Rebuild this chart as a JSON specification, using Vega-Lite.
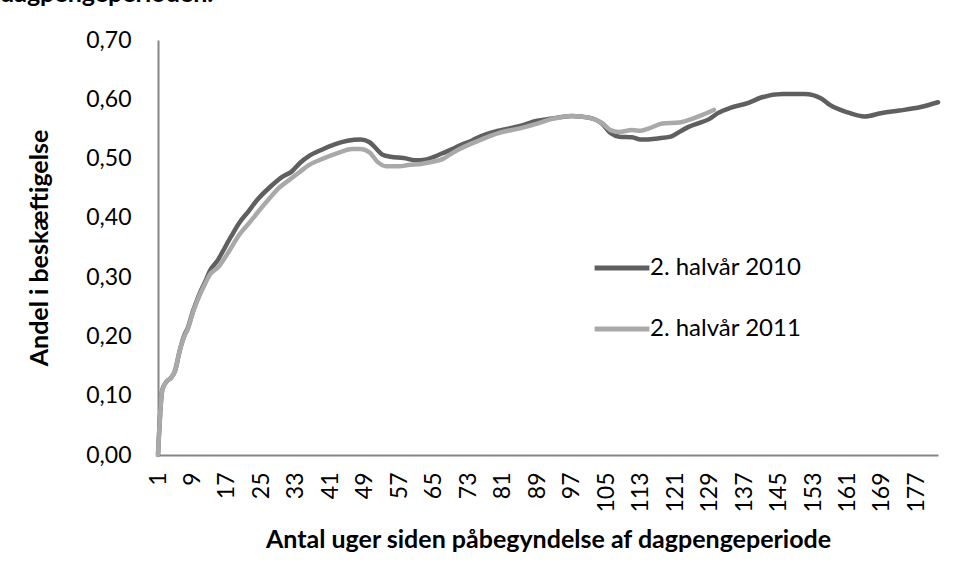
{
  "$schema": "https://vega.github.io/schema/vega-lite/v6.json",
  "width": 780,
  "height": 415,
  "autosize": {"type": "none"},
  "padding": {"left": 158, "top": 40, "right": 19, "bottom": 125},
  "background": "white",
  "config": {
    "view": {"stroke": null},
    "font": "Lato"
  },
  "title": {
    "text": "dagpengeperioden.",
    "anchor": "start",
    "frame": "group",
    "dx": -158,
    "dy": -18,
    "fontSize": 25,
    "fontWeight": "bold",
    "font": "Lato",
    "color": "#000000"
  },
  "data": {
    "values": [
      {"week": 1, "v": 0.0, "s": "2. halvår 2010"},
      {"week": 2, "v": 0.11, "s": "2. halvår 2010"},
      {"week": 3, "v": 0.124, "s": "2. halvår 2010"},
      {"week": 4, "v": 0.13, "s": "2. halvår 2010"},
      {"week": 5, "v": 0.143, "s": "2. halvår 2010"},
      {"week": 6, "v": 0.175, "s": "2. halvår 2010"},
      {"week": 7, "v": 0.2, "s": "2. halvår 2010"},
      {"week": 8, "v": 0.216, "s": "2. halvår 2010"},
      {"week": 9, "v": 0.24, "s": "2. halvår 2010"},
      {"week": 10, "v": 0.26, "s": "2. halvår 2010"},
      {"week": 11, "v": 0.278, "s": "2. halvår 2010"},
      {"week": 12, "v": 0.293, "s": "2. halvår 2010"},
      {"week": 13, "v": 0.31, "s": "2. halvår 2010"},
      {"week": 15, "v": 0.33, "s": "2. halvår 2010"},
      {"week": 16, "v": 0.343, "s": "2. halvår 2010"},
      {"week": 18, "v": 0.369, "s": "2. halvår 2010"},
      {"week": 20, "v": 0.393, "s": "2. halvår 2010"},
      {"week": 22, "v": 0.411, "s": "2. halvår 2010"},
      {"week": 24, "v": 0.43, "s": "2. halvår 2010"},
      {"week": 27, "v": 0.452, "s": "2. halvår 2010"},
      {"week": 30, "v": 0.47, "s": "2. halvår 2010"},
      {"week": 32, "v": 0.478, "s": "2. halvår 2010"},
      {"week": 34, "v": 0.493, "s": "2. halvår 2010"},
      {"week": 36, "v": 0.504, "s": "2. halvår 2010"},
      {"week": 39, "v": 0.515, "s": "2. halvår 2010"},
      {"week": 42, "v": 0.524, "s": "2. halvår 2010"},
      {"week": 45, "v": 0.53, "s": "2. halvår 2010"},
      {"week": 48, "v": 0.532, "s": "2. halvår 2010"},
      {"week": 50, "v": 0.528, "s": "2. halvår 2010"},
      {"week": 52, "v": 0.514, "s": "2. halvår 2010"},
      {"week": 53, "v": 0.507, "s": "2. halvår 2010"},
      {"week": 55, "v": 0.503, "s": "2. halvår 2010"},
      {"week": 58, "v": 0.501, "s": "2. halvår 2010"},
      {"week": 61, "v": 0.497, "s": "2. halvår 2010"},
      {"week": 63, "v": 0.498, "s": "2. halvår 2010"},
      {"week": 65, "v": 0.503, "s": "2. halvår 2010"},
      {"week": 67, "v": 0.509, "s": "2. halvår 2010"},
      {"week": 69, "v": 0.515, "s": "2. halvår 2010"},
      {"week": 71, "v": 0.522, "s": "2. halvår 2010"},
      {"week": 74, "v": 0.531, "s": "2. halvår 2010"},
      {"week": 76, "v": 0.538, "s": "2. halvår 2010"},
      {"week": 80, "v": 0.547, "s": "2. halvår 2010"},
      {"week": 85, "v": 0.555, "s": "2. halvår 2010"},
      {"week": 89, "v": 0.564, "s": "2. halvår 2010"},
      {"week": 92, "v": 0.567, "s": "2. halvår 2010"},
      {"week": 97, "v": 0.572, "s": "2. halvår 2010"},
      {"week": 101, "v": 0.569, "s": "2. halvår 2010"},
      {"week": 104, "v": 0.559, "s": "2. halvår 2010"},
      {"week": 106, "v": 0.543, "s": "2. halvår 2010"},
      {"week": 108, "v": 0.537, "s": "2. halvår 2010"},
      {"week": 111, "v": 0.536, "s": "2. halvår 2010"},
      {"week": 113, "v": 0.532, "s": "2. halvår 2010"},
      {"week": 117, "v": 0.534, "s": "2. halvår 2010"},
      {"week": 120, "v": 0.537, "s": "2. halvår 2010"},
      {"week": 122, "v": 0.545, "s": "2. halvår 2010"},
      {"week": 124, "v": 0.553, "s": "2. halvår 2010"},
      {"week": 127, "v": 0.561, "s": "2. halvår 2010"},
      {"week": 129, "v": 0.567, "s": "2. halvår 2010"},
      {"week": 131, "v": 0.577, "s": "2. halvår 2010"},
      {"week": 134, "v": 0.586, "s": "2. halvår 2010"},
      {"week": 138, "v": 0.594, "s": "2. halvår 2010"},
      {"week": 141, "v": 0.603, "s": "2. halvår 2010"},
      {"week": 146, "v": 0.609, "s": "2. halvår 2010"},
      {"week": 151, "v": 0.609, "s": "2. halvår 2010"},
      {"week": 155, "v": 0.601, "s": "2. halvår 2010"},
      {"week": 157, "v": 0.59, "s": "2. halvår 2010"},
      {"week": 161, "v": 0.578, "s": "2. halvår 2010"},
      {"week": 165, "v": 0.571, "s": "2. halvår 2010"},
      {"week": 169, "v": 0.577, "s": "2. halvår 2010"},
      {"week": 173, "v": 0.581, "s": "2. halvår 2010"},
      {"week": 178, "v": 0.587, "s": "2. halvår 2010"},
      {"week": 182, "v": 0.595, "s": "2. halvår 2010"},
      {"week": 1, "v": 0.0, "s": "2. halvår 2011"},
      {"week": 2, "v": 0.11, "s": "2. halvår 2011"},
      {"week": 3, "v": 0.124, "s": "2. halvår 2011"},
      {"week": 4, "v": 0.13, "s": "2. halvår 2011"},
      {"week": 5, "v": 0.143, "s": "2. halvår 2011"},
      {"week": 6, "v": 0.175, "s": "2. halvår 2011"},
      {"week": 7, "v": 0.198, "s": "2. halvår 2011"},
      {"week": 8, "v": 0.214, "s": "2. halvår 2011"},
      {"week": 9, "v": 0.238, "s": "2. halvår 2011"},
      {"week": 10, "v": 0.258, "s": "2. halvår 2011"},
      {"week": 11, "v": 0.275, "s": "2. halvår 2011"},
      {"week": 12, "v": 0.29, "s": "2. halvår 2011"},
      {"week": 13, "v": 0.304, "s": "2. halvår 2011"},
      {"week": 15, "v": 0.317, "s": "2. halvår 2011"},
      {"week": 17, "v": 0.338, "s": "2. halvår 2011"},
      {"week": 18, "v": 0.35, "s": "2. halvår 2011"},
      {"week": 20, "v": 0.373, "s": "2. halvår 2011"},
      {"week": 22, "v": 0.39, "s": "2. halvår 2011"},
      {"week": 25, "v": 0.417, "s": "2. halvår 2011"},
      {"week": 27, "v": 0.434, "s": "2. halvår 2011"},
      {"week": 29, "v": 0.45, "s": "2. halvår 2011"},
      {"week": 32, "v": 0.467, "s": "2. halvår 2011"},
      {"week": 34, "v": 0.478, "s": "2. halvår 2011"},
      {"week": 36, "v": 0.489, "s": "2. halvår 2011"},
      {"week": 39, "v": 0.499, "s": "2. halvår 2011"},
      {"week": 43, "v": 0.51, "s": "2. halvår 2011"},
      {"week": 46, "v": 0.516, "s": "2. halvår 2011"},
      {"week": 48, "v": 0.516, "s": "2. halvår 2011"},
      {"week": 50, "v": 0.511, "s": "2. halvår 2011"},
      {"week": 52, "v": 0.494, "s": "2. halvår 2011"},
      {"week": 54, "v": 0.487, "s": "2. halvår 2011"},
      {"week": 57, "v": 0.487, "s": "2. halvår 2011"},
      {"week": 59, "v": 0.489, "s": "2. halvår 2011"},
      {"week": 62, "v": 0.491, "s": "2. halvår 2011"},
      {"week": 65, "v": 0.495, "s": "2. halvår 2011"},
      {"week": 67, "v": 0.499, "s": "2. halvår 2011"},
      {"week": 69, "v": 0.508, "s": "2. halvår 2011"},
      {"week": 71, "v": 0.516, "s": "2. halvår 2011"},
      {"week": 74, "v": 0.526, "s": "2. halvår 2011"},
      {"week": 76, "v": 0.532, "s": "2. halvår 2011"},
      {"week": 80, "v": 0.543, "s": "2. halvår 2011"},
      {"week": 85, "v": 0.551, "s": "2. halvår 2011"},
      {"week": 89, "v": 0.559, "s": "2. halvår 2011"},
      {"week": 92, "v": 0.566, "s": "2. halvår 2011"},
      {"week": 97, "v": 0.572, "s": "2. halvår 2011"},
      {"week": 101, "v": 0.569, "s": "2. halvår 2011"},
      {"week": 104, "v": 0.56, "s": "2. halvår 2011"},
      {"week": 106, "v": 0.548, "s": "2. halvår 2011"},
      {"week": 108, "v": 0.545, "s": "2. halvår 2011"},
      {"week": 111, "v": 0.548, "s": "2. halvår 2011"},
      {"week": 113, "v": 0.547, "s": "2. halvår 2011"},
      {"week": 115, "v": 0.551, "s": "2. halvår 2011"},
      {"week": 118, "v": 0.559, "s": "2. halvår 2011"},
      {"week": 122, "v": 0.561, "s": "2. halvår 2011"},
      {"week": 126, "v": 0.57, "s": "2. halvår 2011"},
      {"week": 130, "v": 0.582, "s": "2. halvår 2011"}
    ]
  },
  "mark": {"type": "line", "strokeWidth": 4.5, "strokeCap": "round", "strokeJoin": "round", "interpolate": "monotone"},
  "encoding": {
    "x": {
      "field": "week",
      "type": "quantitative",
      "scale": {"domain": [1, 182], "nice": false, "zero": false},
      "axis": {
        "title": "Antal uger siden påbegyndelse af dagpengeperiode",
        "values": [1, 9, 17, 25, 33, 41, 49, 57, 65, 73, 81, 89, 97, 105, 113, 121, 129, 137, 145, 153, 161, 169, 177],
        "labelAngle": -90,
        "labelFontSize": 23,
        "labelFont": "Lato",
        "labelColor": "#000000",
        "labelPadding": 17,
        "labelFlush": false,
        "labelOverlap": false,
        "ticks": false,
        "grid": false,
        "domainColor": "#868686",
        "domainWidth": 2,
        "titleFontSize": 25,
        "titleFont": "Lato",
        "titleFontWeight": "bold",
        "titleColor": "#000000",
        "titlePadding": 15
      }
    },
    "y": {
      "field": "v",
      "type": "quantitative",
      "scale": {"domain": [0, 0.7], "nice": false},
      "axis": {
        "title": "Andel i beskæftigelse",
        "values": [0, 0.1, 0.2, 0.3, 0.4, 0.5, 0.6, 0.7],
        "labelExpr": "replace(format(datum.value, '.2f'), '.', ',')",
        "labelFontSize": 23,
        "labelFont": "Lato",
        "labelColor": "#000000",
        "labelPadding": 27,
        "ticks": false,
        "grid": false,
        "domainColor": "#868686",
        "domainWidth": 2,
        "titleFontSize": 25,
        "titleFont": "Lato",
        "titleFontWeight": "bold",
        "titleColor": "#000000",
        "titlePadding": 33
      }
    },
    "color": {
      "field": "s",
      "type": "nominal",
      "scale": {"domain": ["2. halvår 2010", "2. halvår 2011"], "range": ["#5f5f5f", "#a9a9a9"]},
      "legend": {
        "title": null,
        "orient": "none",
        "legendX": 434,
        "legendY": 198,
        "symbolType": "stroke",
        "symbolSize": 3000,
        "symbolStrokeWidth": 5,
        "labelFontSize": 24,
        "labelFont": "Lato",
        "labelColor": "#000000",
        "labelOffset": -2,
        "rowPadding": 19,
        "labelLimit": 300
      }
    }
  }
}
